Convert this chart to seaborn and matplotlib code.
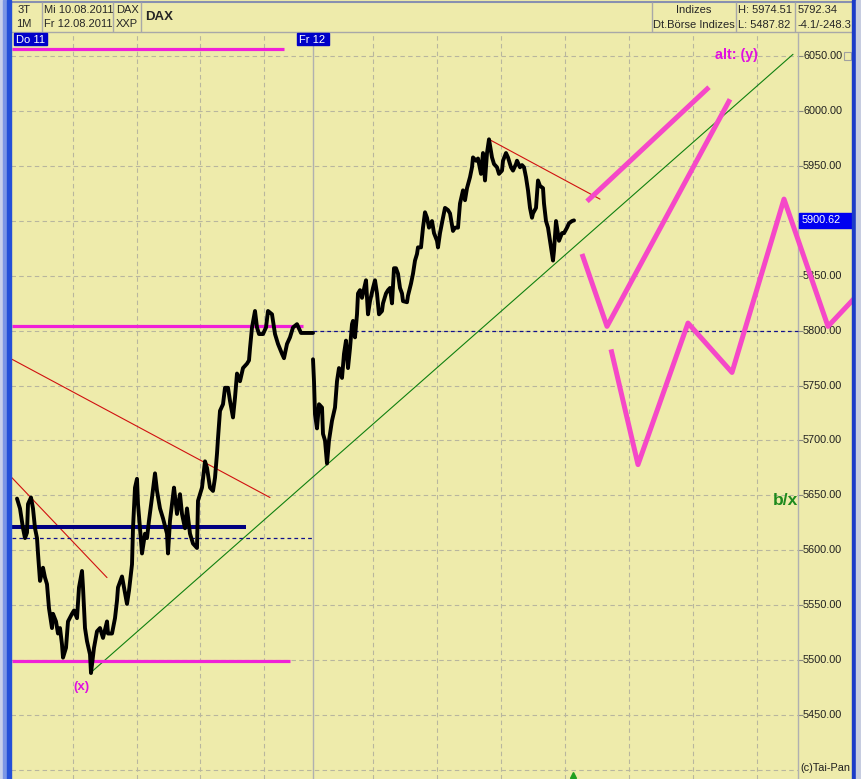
import matplotlib
matplotlib.use("Agg")
import matplotlib.pyplot as plt
import seaborn as sns
import pandas as pd
from matplotlib.patches import Rectangle

# ---- data (x = bar position, y = DAX points) ----
do11_bar = [17, 20, 23, 25, 27, 28, 31, 33, 35, 37, 38, 40, 43, 45, 47, 49, 52, 53, 56, 58,
            60, 62, 63, 66, 68, 72, 74, 77, 79, 82, 83, 85, 87, 90, 91, 94, 97, 100, 103, 107,
            108, 112, 115, 117, 118, 122, 124, 127, 129, 132, 133, 135, 137, 138, 140, 142, 145,
            147, 149, 152, 155, 157, 160, 163, 167, 168, 170, 172, 174, 177, 180, 182, 185, 187,
            190, 193, 197, 198, 202, 205, 207, 210, 213, 215, 217, 218, 220, 223, 225, 228, 230,
            233, 235, 237, 240, 243, 247, 249, 250, 252, 255, 257, 259, 263, 266, 268, 272, 275,
            278, 282, 284, 287, 290, 293, 297, 301, 313]
do11_px = [5647, 5638, 5620, 5611, 5616, 5642, 5648, 5638, 5620, 5611, 5597, 5572, 5584, 5575,
           5569, 5547, 5529, 5542, 5535, 5524, 5529, 5514, 5502, 5511, 5535, 5542, 5545, 5538,
           5566, 5581, 5566, 5529, 5517, 5505, 5488, 5511, 5526, 5529, 5520, 5535, 5524, 5524,
           5538, 5554, 5566, 5576, 5566, 5551, 5563, 5587, 5620, 5657, 5665, 5642, 5620, 5597,
           5615, 5611, 5627, 5648, 5670, 5654, 5638, 5629, 5615, 5597, 5627, 5642, 5657, 5633,
           5651, 5633, 5620, 5638, 5615, 5606, 5602, 5645, 5657, 5681, 5675, 5657, 5654, 5666,
           5688, 5702, 5727, 5733, 5748, 5748, 5736, 5721, 5739, 5761, 5754, 5766, 5770, 5773,
           5784, 5803, 5818, 5803, 5797, 5797, 5803, 5818, 5815, 5797, 5788, 5779, 5775, 5788,
           5794, 5803, 5806, 5798, 5798]

fr12_bar = [313, 314, 315, 317, 319, 322, 323, 325, 327, 329, 332, 335, 337, 339, 342, 344, 346,
            348, 350, 352, 353, 355, 357, 358, 360, 362, 363, 366, 368, 370, 373, 375, 377, 379,
            382, 383, 386, 388, 390, 392, 394, 396, 398, 400, 402, 403, 407, 408, 411, 413, 415,
            417, 418, 421, 423, 425, 427, 429, 432, 434, 437, 438, 440, 443, 445, 448, 450, 453,
            455, 458, 460, 463, 465, 467, 470, 472, 473, 476, 478, 481, 483, 485, 487, 489, 492,
            494, 497, 499, 502, 503, 506, 508, 511, 513, 516, 517, 520, 522, 524, 526, 528, 530,
            532, 533, 536, 538, 540, 543, 544, 546, 548, 551, 553, 554, 556, 557, 559, 562, 564,
            567, 569, 572, 574]
fr12_px = [5774, 5754, 5724, 5711, 5733, 5730, 5706, 5700, 5679, 5700, 5718, 5730, 5754, 5766,
           5757, 5779, 5791, 5766, 5784, 5806, 5809, 5794, 5815, 5834, 5837, 5830, 5834, 5846,
           5815, 5827, 5839, 5846, 5834, 5815, 5818, 5825, 5834, 5837, 5839, 5825, 5857, 5857,
           5852, 5839, 5834, 5827, 5826, 5832, 5843, 5852, 5864, 5870, 5876, 5876, 5894, 5908,
           5903, 5894, 5900, 5889, 5882, 5876, 5889, 5903, 5912, 5910, 5907, 5891, 5894, 5894,
           5916, 5928, 5919, 5930, 5940, 5949, 5958, 5955, 5957, 5943, 5962, 5937, 5962, 5974.5,
           5958, 5952, 5949, 5943, 5946, 5955, 5962, 5958, 5949, 5946, 5952, 5955, 5949, 5951,
           5949, 5940, 5928, 5912, 5903, 5907, 5912, 5937, 5932, 5930, 5916, 5900, 5894, 5876,
           5864, 5873, 5900, 5894, 5882, 5889, 5889, 5894, 5898, 5900, 5900.6]

# projected wave paths (pink)
proj_a_bar = [587, 709]
proj_a_px = [5918, 6022]
proj_b_bar = [582, 607, 730]
proj_b_px = [5870, 5804, 6011]
proj_c_bar = [611, 638, 688, 732, 784, 828, 861]
proj_c_px = [5783, 5678, 5807, 5762, 5920, 5804, 5836]

# horizontal levels: (price, start bar, end bar)
pink_levels = [(6057, 12, 284), (5804, 12, 303), (5499, 12, 290)]
navy_level = (5621, 12, 246)
navy_dashed = [(5611, 12, 313), (5800, 313, 798)]

# trend lines
red_lines = [([12, 107], [5666, 5575]), ([12, 270], [5774, 5648]), ([489, 600], [5974.5, 5920])]
green_line = ([90, 793], [5487.8, 6052])

grid_levels = [5400, 5450, 5500, 5550, 5600, 5650, 5700, 5750, 5800, 5850, 5900, 5950, 6000, 6050]
label_levels = [5450, 5500, 5550, 5600, 5650, 5700, 5750, 5800, 5850, 5900, 5950, 6000, 6050]
hour_grid = [72.7, 136.7, 200.3, 264.3, 373, 437, 501, 565, 629, 693, 757]
day_lines = [313, 798]
last_price = 5900.62

BG = "#eeebab"
PINK = "#f020d8"
PROJ = "#f548c8"
NAVY = "#10108c"

sns.set_style("white")
plt.rcParams["font.family"] = ["Liberation Sans", "DejaVu Sans"]

fig = plt.figure(figsize=(8.61, 7.79), dpi=100)
fig.patch.set_facecolor(BG)
ax = fig.add_axes([0, 0, 1, 1])
ax.set_facecolor(BG)

top_frac = (779 - 32) / 779
# grid
for p in grid_levels:
    ax.hlines(p, 11, 798, colors="#b8b69e", linestyles=(0, (4, 3)), lw=0.8, zorder=1)
for p in label_levels:
    ax.hlines(p, 798, 803, colors="#8a8a80", lw=0.8, zorder=1)
    ax.text(803, p, f"{p:.2f}", fontsize=7.8, va="center", ha="left", color="#202020")
for g in hour_grid:
    ax.axvline(g, ymin=0, ymax=top_frac, color="#b8b69e", ls=(0, (4, 3)), lw=0.8, zorder=1)
for d in day_lines:
    ax.axvline(d, ymin=0, ymax=top_frac, color="#b0b0b0", lw=1.0, zorder=1)

# levels
for p, a, b in pink_levels:
    ax.hlines(p, a, b, colors=PINK, lw=2.3, zorder=4)
ax.hlines(navy_level[0], navy_level[1], navy_level[2], colors="#000080", lw=2.9, zorder=4)
for p, a, b in navy_dashed:
    ax.hlines(p, a, b, colors=NAVY, linestyles=(0, (3, 2.5)), lw=0.9, zorder=4)

for xs, ys in red_lines:
    ax.plot(xs, ys, color="#d01010", lw=0.8, zorder=3)
ax.plot(green_line[0], green_line[1], color="#108010", lw=0.8, zorder=3)

# price series
df = pd.concat([
    pd.DataFrame({"bar": do11_bar, "price": do11_px, "day": "Do 11"}),
    pd.DataFrame({"bar": fr12_bar, "price": fr12_px, "day": "Fr 12"}),
])
sns.lineplot(data=df, x="bar", y="price", units="day", estimator=None, sort=False,
             color="black", lw=2.8, ax=ax, zorder=5)

# projections
for xs, ys in [(proj_a_bar, proj_a_px), (proj_b_bar, proj_b_px), (proj_c_bar, proj_c_px)]:
    sns.lineplot(x=xs, y=ys, sort=False, estimator=None, color=PROJ, lw=3.6,
                 ax=ax, zorder=6, solid_capstyle="butt")
ax.set_xlim(0, 861)
ax.set_ylim(5391.4, 6101.5)
ax.axis("off")

ax.text(736, 6051.5, "alt: (y)", color="#e010e0", fontsize=10.3, fontweight="bold",
        ha="center", va="center", zorder=7)
ax.text(81, 5475, "(x)", color="#e010e0", fontsize=9.5, fontweight="bold",
        ha="center", va="center", zorder=7)
ax.text(798, 5645.5, "b/x", color="#1e8a1e", fontsize=12.5, fontweight="bold",
        ha="right", va="center", zorder=7)
ax.plot([573], [5395], marker="^", color="#20a020", ms=4, zorder=7)

# ---- overlay in pixel units: header, borders, labels ----
ov = fig.add_axes([0, 0, 1, 1], zorder=10)
ov.patch.set_alpha(0)
ov.set_xlim(0, 861)
ov.set_ylim(779, 0)
ov.axis("off")

ov.add_patch(Rectangle((0, 0), 861, 32, color=BG, zorder=1))
ov.hlines(32, 10, 852, colors="#a8a8a8", lw=1)
ov.hlines(1.5, 0, 861, colors="#8890b0", lw=1.5)
for sx in [42, 113, 141, 652, 736, 795]:
    ov.vlines(sx, 2, 32, colors="#a8a8a8", lw=1)

hs = 8
ov.text(24, 10, "3T", fontsize=hs, ha="center", va="center")
ov.text(24, 24, "1M", fontsize=hs, ha="center", va="center")
ov.text(44, 10, "Mi 10.08.2011", fontsize=hs, ha="left", va="center")
ov.text(44, 24, "Fr 12.08.2011", fontsize=hs, ha="left", va="center")
ov.text(116, 10, "DAX", fontsize=hs, ha="left", va="center")
ov.text(116, 24, "XXP", fontsize=hs, ha="left", va="center")
ov.text(145, 17, "DAX", fontsize=9.5, fontweight="bold", ha="left", va="center")
ov.text(694, 10, "Indizes", fontsize=hs, ha="center", va="center")
ov.text(694, 25, "Dt.Börse Indizes", fontsize=hs, ha="center", va="center")
ov.text(738, 10, "H: 5974.51", fontsize=hs, ha="left", va="center")
ov.text(738, 25, "L: 5487.82", fontsize=hs, ha="left", va="center")
ov.text(798, 10, "5792.34", fontsize=hs, ha="left", va="center")
ov.text(798, 25, "-4.1/-248.3", fontsize=hs, ha="left", va="center", clip_on=True)

for lbl, x0, w in [("Do 11", 14, 33), ("Fr 12", 297, 32)]:
    ov.add_patch(Rectangle((x0, 33), w, 12, color="#0000c8", zorder=2))
    ov.text(x0 + 2, 39.5, lbl, fontsize=8, color="white", ha="left", va="center", zorder=3)

# last price tag
py = 56.5 + (6050 - last_price) * 1.097
ov.add_patch(Rectangle((799, py - 7.5), 53, 15, color="#0000f0", zorder=2))
ov.text(802, py, f"{last_price:.2f}", fontsize=7.8, color="white", ha="left", va="center", zorder=3)
ov.add_patch(Rectangle((844, 52), 7, 8, fill=False, ec="#a0a0a0", lw=0.8))

ov.text(800, 768, "(c)Tai-Pan", fontsize=7.8, ha="left", va="center", color="#202020")

# window borders
ov.add_patch(Rectangle((0, 0), 3, 779, color="#c8d0ea", zorder=8))
ov.add_patch(Rectangle((3, 0), 4, 779, color="#7b96e6", zorder=8))
ov.add_patch(Rectangle((7, 0), 3.5, 779, color="#2450d8", zorder=8))
ov.add_patch(Rectangle((852, 0), 4, 779, color="#1c3cc8", zorder=8))
ov.add_patch(Rectangle((856, 0), 5, 779, color="#c6cce0", zorder=8))

fig.savefig("out.png", dpi=100, facecolor=BG)
